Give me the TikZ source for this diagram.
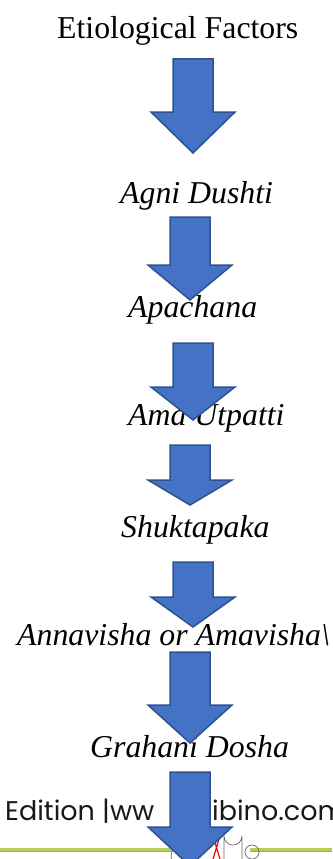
\documentclass[tikz,border=0pt]{standalone}
\usepackage{fontspec}
\setmainfont{Liberation Serif}
\newfontfamily\footfont{Poppins}
\definecolor{arrfill}{HTML}{4472C4}
\definecolor{arredge}{HTML}{2F528F}
\definecolor{linegreen}{HTML}{B4CF5A}
\definecolor{linegreendk}{HTML}{94B33C}
\newcommand{\dnarrow}[4]{% cx, top, shoulder, tip
  \draw[arrowshape] ({#1-20},#2) -- ({#1+20},#2) -- ({#1+20},#3) -- ({#1+42},#3)
    -- (#1,#4) -- ({#1-42},#3) -- ({#1-20},#3) -- cycle;}
\begin{document}
\begin{tikzpicture}[x=1pt,y=-1pt,
  arrowshape/.style={fill=arrfill,draw=arredge,line width=1.5pt,line join=miter},
  lbl/.style={anchor=base west,inner sep=0pt,font=\fontsize{31.8}{36}\selectfont},
  ilbl/.style={lbl,font=\fontsize{31.8}{36}\selectfont\itshape},
  foot/.style={anchor=base west,inner sep=0pt,font=\footfont\fontsize{27}{32}\selectfont,text=black!90}]
\useasboundingbox (0,0) rectangle (332,859);
\clip (0,0) rectangle (332,859);
% texts
\node[lbl]  (t0) at (57,38)  {Etiological Factors};
\node[ilbl] (t1) at (120,203) {Agni Dushti};
\node[ilbl] (t2) at (128,317) {Apachana};
\node[ilbl] (t3) at (128,425) {Ama Utpatti};
\node[ilbl] (t4) at (121,537) {Shuktapaka};
\node[ilbl] (t5) at (17,645) {Annavisha or Amavisha\textbackslash};
\node[ilbl] (t6) at (90,757) {Grahani Dosha};
\node[foot] (f1) at (5,820) {Edition |ww};
\node[foot] (f2) at (212,820) {ibino.com};
% footer line and logo
\draw[linegreen,line width=3pt] (0,849) -- (172,849);
\draw[linegreen,line width=3pt] (250,849) -- (332,849);
\draw[linegreendk,line width=0.8pt] (0,851) -- (172,851);
\draw[linegreendk,line width=0.8pt] (250,851) -- (332,851);
\draw[black!60,line width=0.7pt] (181,856) circle (10);
\draw[red,line width=1.2pt] (213,836) -- (220,859) (220,836) -- (213,859);
\draw[black!60,line width=0.7pt] (224,859) -- (224,836) arc (180:0:9) -- (242,859);
\draw[black!60,line width=0.7pt] (252,852) circle (7);
% arrows
\dnarrow{193}{59}{112}{153}
\dnarrow{190}{217}{265}{300}
\dnarrow{193}{343}{387}{420}
\dnarrow{190}{445}{480}{505}
\dnarrow{193}{562}{597}{627}
\dnarrow{190}{652}{705}{743}
\dnarrow{190}{772}{827}{866}
\end{tikzpicture}
\end{document}
